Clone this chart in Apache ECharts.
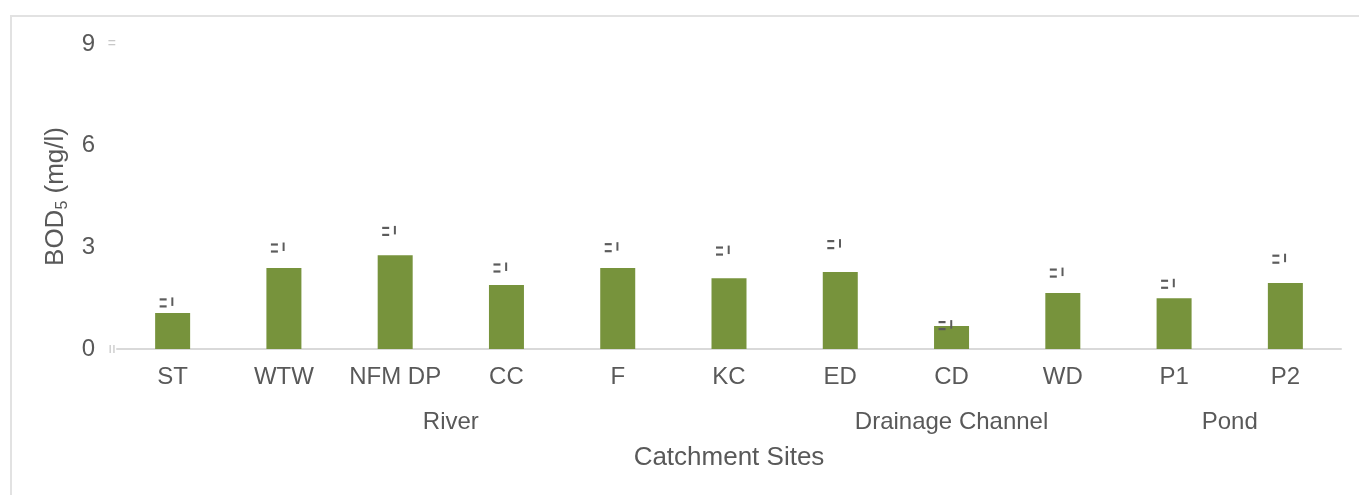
<!DOCTYPE html>
<html>
<head>
    <meta charset="UTF-8">
    <title>BOD5 by catchment site</title>
    <script src="https://cdn.jsdelivr.net/npm/echarts@6/dist/echarts.min.js"></script>
    <style>
        body { margin: 0; background: #fff; overflow: hidden; }
        /* light frame of the original figure, cropped at right and bottom */
        .frame { position: absolute; left: 10px; top: 15px; width: 1400px; height: 520px;
                 border: 2px solid #e2e2e2; box-sizing: border-box; }
        #main { position: absolute; left: 0; top: 0; width: 1359px; height: 495px; }
    </style>
</head>
<body>
<div class="frame"></div>
<div id="main"></div>
<script type="text/javascript">
    // sites along the catchment
    var sites = ['ST', 'WTW', 'NFM DP', 'CC', 'F', 'KC', 'ED', 'CD', 'WD', 'P1', 'P2'];
    // mean BOD5 (mg/l)
    var bodMean = [1.06, 2.39, 2.77, 1.89, 2.39, 2.09, 2.27, 0.68, 1.65, 1.50, 1.95];
    // top of the error bar (mean + sd), drawn as the small marks above bars
    var bodUpper = [1.36, 2.98, 3.47, 2.39, 2.99, 2.89, 3.08, 0.69, 2.24, 1.91, 2.65];
    // site groups and how many sites each one holds
    var groupNames = ['River', 'Drainage Channel', 'Pond'];
    var groupSizes = [6, 3, 2];
    var yTicks = [0, 3, 6, 9];

    var textColor = '#595959';
    var fontFamily = '"Liberation Sans", Arial, sans-serif';

    // group labels sit on a half-step axis: slot j is at site boundary j/2
    var groupSlots = [];
    for (var j = 0; j <= sites.length * 2; j++) groupSlots.push('');
    var start = 0;
    groupNames.forEach(function (name, k) {
        groupSlots[2 * start + groupSizes[k]] = name;
        start += groupSizes[k];
    });

    var errData = sites.map(function (s, i) { return [i, bodUpper[i]]; });

    var chartDom = document.getElementById('main');
    var myChart = echarts.init(chartDom);
    var option = {
        animation: false,
        textStyle: { fontFamily: fontFamily },
        grid: { left: 117, right: 18, top: 44, bottom: 146 },
        xAxis: [
            {
                type: 'category',
                data: sites,
                axisLine: { lineStyle: { color: '#d9d9d9', width: 2 } },
                axisTick: { show: false },
                axisLabel: { color: textColor, fontSize: 24, margin: 16, interval: 0 }
            },
            {
                type: 'category',
                data: groupSlots,
                position: 'bottom',
                boundaryGap: false,
                axisLine: { show: false },
                axisTick: { show: false },
                axisLabel: { color: textColor, fontSize: 24, margin: 61, interval: 0 },
                name: 'Catchment Sites',
                nameLocation: 'middle',
                nameGap: 96,
                nameTextStyle: { color: textColor, fontSize: 26 }
            }
        ],
        yAxis: {
            type: 'value',
            min: yTicks[0],
            max: yTicks[yTicks.length - 1],
            interval: 3,
            axisLine: { show: false },
            axisTick: { show: false },
            splitLine: { show: false },
            axisLabel: {
                margin: 1,
                color: textColor,
                fontSize: 24,
                formatter: function (v) {
                    var mark = v === 9 ? '=' : (v === 0 ? 'ıı' : '');
                    return v + '{g|' + mark + '}';
                },
                rich: {
                    g: { width: 21, align: 'right', color: '#c8c8c8', fontSize: 14 }
                }
            },
            name: 'BOD{sub|5} (mg/l)',
            nameLocation: 'middle',
            nameGap: 42,
            nameTextStyle: {
                color: textColor,
                fontSize: 26,
                rich: {
                    sub: { fontSize: 16, verticalAlign: 'bottom', padding: [14, 0, 0, 0], color: textColor }
                }
            }
        },
        series: [
            {
                type: 'bar',
                data: bodMean,
                barWidth: 35,
                itemStyle: { color: '#77933C' }
            },
            {
                type: 'custom',
                data: errData,
                z: 3,
                renderItem: function (params, api) {
                    var p = api.coord([api.value(0), api.value(1)]);
                    var c = '#5c5c5c';
                    return {
                        type: 'group',
                        children: [
                            { type: 'rect', shape: { x: p[0] - 13, y: p[1] - 4.6, width: 7, height: 2.2 }, style: { fill: c } },
                            { type: 'rect', shape: { x: p[0] - 13, y: p[1] + 2.4, width: 7, height: 2.2 }, style: { fill: c } },
                            { type: 'rect', shape: { x: p[0] - 1.3, y: p[1] - 5.5, width: 2, height: 8.5 }, style: { fill: c } }
                        ]
                    };
                }
            }
        ]
    };
    option && myChart.setOption(option);
</script>
</body>
</html>
